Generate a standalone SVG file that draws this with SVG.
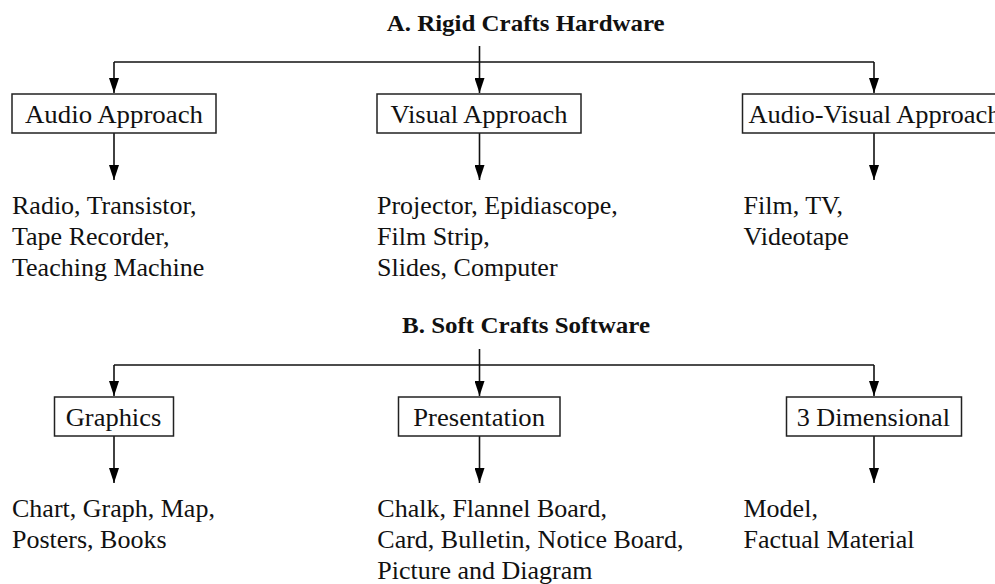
<svg xmlns="http://www.w3.org/2000/svg" width="995" height="584" viewBox="0 0 995 584">
  <style>
    .title { font-family: "Liberation Serif", "Times New Roman", serif; font-weight: bold; font-size: 23px; fill: #111; }
    .lbl { font-family: "Liberation Serif", "Times New Roman", serif; font-size: 26px; fill: #111; }
    .box { fill: #fff; stroke: #222; stroke-width: 1.5; }
    .conn { fill: none; stroke: #111; stroke-width: 1.6; }
  </style>
  <defs>
    <marker id="arr" viewBox="0 0 15 10" refX="15" refY="5" markerWidth="15" markerHeight="10" markerUnits="userSpaceOnUse" orient="auto">
      <path d="M0,0 L15,5 L0,10 z" fill="#000"/>
    </marker>
  </defs>
  <rect width="995" height="584" fill="#fff"/>

  <g id="titleA"><text class="title" x="525.7" y="30.5" text-anchor="middle" textLength="278" lengthAdjust="spacingAndGlyphs">A. Rigid Crafts Hardware</text></g>
  <g id="titleB"><text class="title" x="526" y="333" text-anchor="middle" textLength="248" lengthAdjust="spacingAndGlyphs">B. Soft Crafts Software</text></g>

  <g id="connectors">
    <path class="conn" d="M479.5,46 V93" marker-end="url(#arr)"/>
    <path class="conn" d="M114,62 H874"/>
    <path class="conn" d="M114,62 V93" marker-end="url(#arr)"/>
    <path class="conn" d="M874,62 V93" marker-end="url(#arr)"/>
    <path class="conn" d="M114,133 V180" marker-end="url(#arr)"/>
    <path class="conn" d="M479.5,133 V180" marker-end="url(#arr)"/>
    <path class="conn" d="M874,133 V180" marker-end="url(#arr)"/>

    <path class="conn" d="M479.5,349 V396" marker-end="url(#arr)"/>
    <path class="conn" d="M114,365 H874"/>
    <path class="conn" d="M114,365 V396" marker-end="url(#arr)"/>
    <path class="conn" d="M874,365 V396" marker-end="url(#arr)"/>
    <path class="conn" d="M114,436 V483" marker-end="url(#arr)"/>
    <path class="conn" d="M479.5,436 V483" marker-end="url(#arr)"/>
    <path class="conn" d="M874,436 V483" marker-end="url(#arr)"/>
  </g>

  <g id="audio">
    <rect class="box" x="12" y="94" width="204" height="39"/>
    <text class="lbl" x="25" y="122.5" textLength="178" lengthAdjust="spacingAndGlyphs">Audio Approach</text>
  </g>
  <g id="visual">
    <rect class="box" x="377" y="94" width="204" height="39"/>
    <text class="lbl" x="390.5" y="122.5" textLength="177" lengthAdjust="spacingAndGlyphs">Visual Approach</text>
  </g>
  <g id="audiovisual">
    <rect class="box" x="742.5" y="94" width="280" height="39"/>
    <text class="lbl" x="748.5" y="122.5" textLength="252" lengthAdjust="spacingAndGlyphs">Audio-Visual Approach</text>
  </g>

  <g id="audio-items">
    <text class="lbl" x="12" y="214">Radio, Transistor,</text>
    <text class="lbl" x="12" y="245">Tape Recorder,</text>
    <text class="lbl" x="12" y="276">Teaching Machine</text>
  </g>
  <g id="visual-items">
    <text class="lbl" x="377" y="214">Projector, Epidiascope,</text>
    <text class="lbl" x="377" y="245">Film Strip,</text>
    <text class="lbl" x="377" y="276">Slides, Computer</text>
  </g>
  <g id="av-items">
    <text class="lbl" x="743.5" y="214">Film, TV,</text>
    <text class="lbl" x="743.5" y="245">Videotape</text>
  </g>

  <g id="graphics">
    <rect class="box" x="54.5" y="397" width="119" height="39"/>
    <text class="lbl" x="65.7" y="425.5" textLength="95.6" lengthAdjust="spacingAndGlyphs">Graphics</text>
  </g>
  <g id="presentation">
    <rect class="box" x="398.5" y="397" width="161.5" height="39"/>
    <text class="lbl" x="413.3" y="425.5" textLength="131.7" lengthAdjust="spacingAndGlyphs">Presentation</text>
  </g>
  <g id="dimensional">
    <rect class="box" x="786.5" y="397" width="175" height="39"/>
    <text class="lbl" x="796.7" y="425.5" textLength="153.3" lengthAdjust="spacingAndGlyphs">3 Dimensional</text>
  </g>

  <g id="graphics-items">
    <text class="lbl" x="12" y="516.5">Chart, Graph, Map,</text>
    <text class="lbl" x="12" y="547.5">Posters, Books</text>
  </g>
  <g id="presentation-items">
    <text class="lbl" x="377.3" y="516.5">Chalk, Flannel Board,</text>
    <text class="lbl" x="377.3" y="547.5">Card, Bulletin, Notice Board,</text>
    <text class="lbl" x="377.3" y="578.5">Picture and Diagram</text>
  </g>
  <g id="dimensional-items">
    <text class="lbl" x="743.5" y="516.5">Model,</text>
    <text class="lbl" x="743.5" y="547.5">Factual Material</text>
  </g>
</svg>
